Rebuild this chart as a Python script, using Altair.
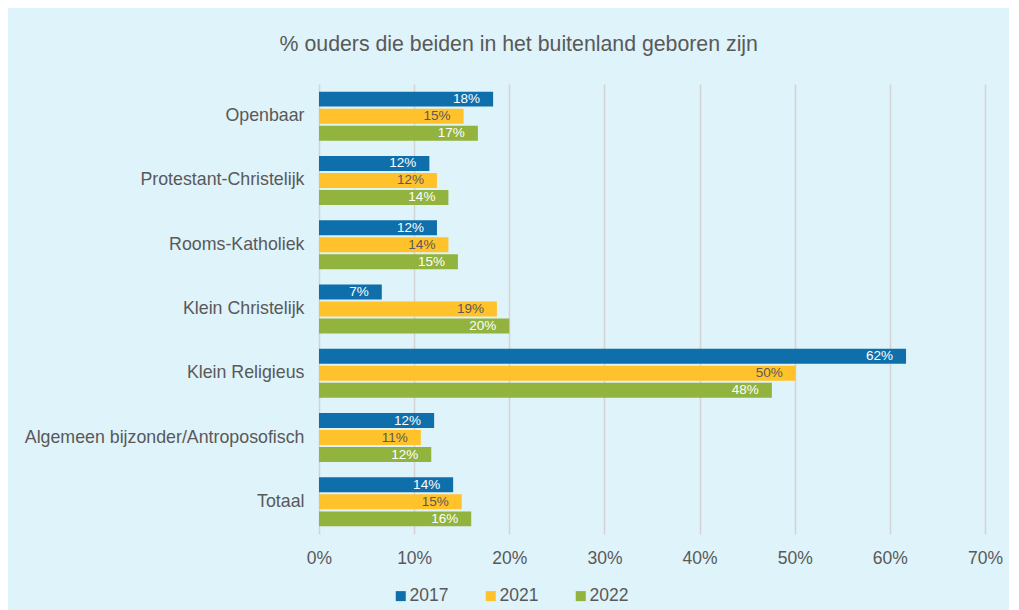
import altair as alt
import pandas as pd

categories = ["Openbaar", "Protestant-Christelijk", "Rooms-Katholiek", "Klein Christelijk",
              "Klein Religieus", "Algemeen bijzonder/Antroposofisch", "Totaal"]
years = ["2017", "2021", "2022"]
v2017 = [0.183, 0.116, 0.124, 0.066, 0.617, 0.121, 0.141]
v2021 = [0.152, 0.124, 0.136, 0.187, 0.501, 0.107, 0.150]
v2022 = [0.167, 0.136, 0.146, 0.200, 0.476, 0.118, 0.160]
colors = ["#0F6FAB", "#FFC22B", "#92B33E"]
x_ticks = [0, 0.1, 0.2, 0.3, 0.4, 0.5, 0.6, 0.7]

rows = []
for yr, vals in zip(years, [v2017, v2021, v2022]):
    for c, v in zip(categories, vals):
        rows.append({"category": c, "year": yr, "value": v})
df = pd.DataFrame(rows)

FONT = "Liberation Sans"
GRAY = "#595959"

base = alt.Chart(df).encode(
    y=alt.Y("category:N", sort=categories,
            scale=alt.Scale(paddingInner=0.238, paddingOuter=0.119),
            axis=alt.Axis(title=None, ticks=False, domain=False, labelFontSize=17.8,
                          labelColor=GRAY, labelPadding=15, labelFont=FONT,
                          minExtent=300, maxExtent=300, labelLimit=400)),
    yOffset=alt.YOffset("year:N", sort=years,
                        scale=alt.Scale(paddingInner=0.12, paddingOuter=0)),
)

bars = base.mark_bar().encode(
    x=alt.X("value:Q", scale=alt.Scale(domain=[0, 0.7], nice=False),
            axis=alt.Axis(title=None, values=x_ticks, format=".0%", ticks=False, domain=False,
                          grid=True, gridColor="#D3D3D3", gridWidth=1.5, labelFlush=False,
                          labelFontSize=17.5, labelColor=GRAY, labelPadding=15, labelFont=FONT)),
    color=alt.Color("year:N", sort=years,
                    scale=alt.Scale(domain=years, range=colors),
                    legend=alt.Legend(title=None, orient="none", direction="horizontal",
                                      legendX=73, legendY=503, symbolType="square",
                                      symbolSize=100, symbolStrokeWidth=0,
                                      labelFontSize=17.5, labelColor=GRAY, labelFont=FONT,
                                      labelOffset=0, columnPadding=33, padding=0)),
)

labels = base.mark_text(align="right", baseline="middle", dx=-13, fontSize=13.5, font=FONT).encode(
    x="value:Q",
    text=alt.Text("value:Q", format=".0%"),
    color=alt.condition(alt.datum.year == "2021", alt.value(GRAY), alt.value("white")),
)

chart = alt.layer(bars, labels).properties(
    width=666, height=450,
    padding={"left": 11, "top": 25, "right": 6, "bottom": 10},
    background="#DFF3FA",
    title=alt.TitleParams("% ouders die beiden in het buitenland geboren zijn",
                          fontSize=21.3, font=FONT, color=GRAY, fontWeight="normal",
                          anchor="middle", frame="bounds", offset=29, dx=8),
).configure_view(stroke=None)

chart.save("out.html", embed_options={"renderer": "svg", "actions": False})
